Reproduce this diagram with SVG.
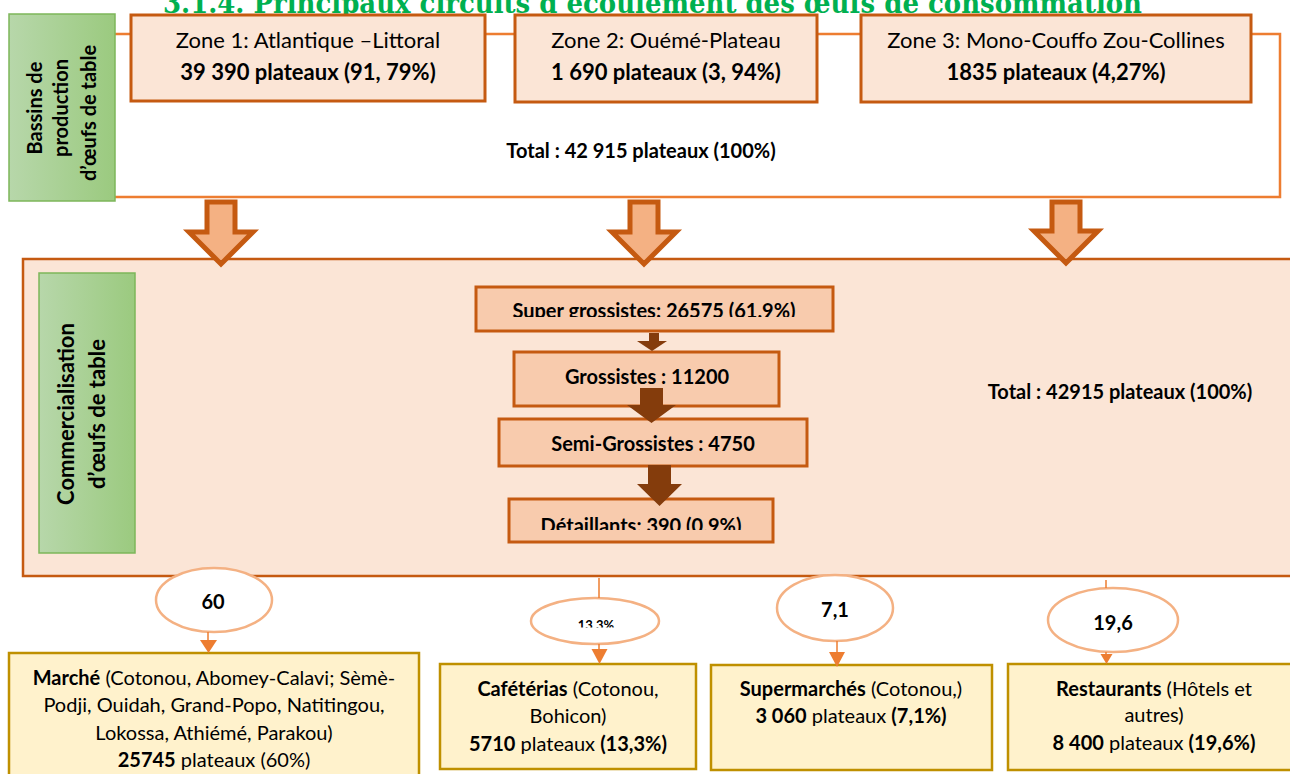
<svg xmlns="http://www.w3.org/2000/svg" width="1290" height="774" viewBox="0 0 1290 774">
<defs>
<linearGradient id="gr" x1="0" y1="0" x2="1" y2="0">
<stop offset="0" stop-color="#B7D7AA"/>
<stop offset="1" stop-color="#9BCA7F"/>
</linearGradient>
<clipPath id="c1"><rect x="470" y="280" width="370" height="37"/></clipPath>
<clipPath id="c2"><rect x="500" y="495" width="280" height="35"/></clipPath>
<clipPath id="c3"><rect x="540" y="600" width="110" height="27.5"/></clipPath>
<style>
text{font-family:Lato,"Liberation Sans",sans-serif;fill:#000;}
.b{font-weight:bold;}
.zone{fill:#FBE5D6;stroke:#C55A11;stroke-width:3;}
.green{fill:url(#gr);stroke:#7DB65A;stroke-width:1.5;}
.flow{fill:#F8CBAD;stroke:#C55A11;stroke-width:3;}
.big{fill:#FBE5D6;stroke:#C55A11;stroke-width:2.5;}
.outlet{fill:#FFF2CC;stroke:#BF9000;stroke-width:2.5;}
.ell{fill:#fff;stroke:#F4B183;stroke-width:2.5;}
.bracket{fill:none;stroke:#ED7D31;stroke-width:2.5;}
.blk{fill:#F4B183;stroke:#C55A11;stroke-width:5;}
.dark{fill:#843C0C;}
.ln{stroke:#ED7D31;stroke-width:1.5;fill:none;}
.ah{fill:#ED7D31;}
.z{font-size:22px;}
.o{font-size:20px;}
.f{font-size:20px;font-weight:bold;}
</style>
</defs>
<rect width="1290" height="774" fill="#fff"/>
<text id="title" x="163" y="13" style="font-family:'DejaVu Serif',serif;fill:#00B050" font-weight="bold" font-size="27" textLength="979" lengthAdjust="spacingAndGlyphs">3.1.4.  Principaux circuits d’écoulement des œufs de consommation</text>

<g id="bracket-frame">
<path class="bracket" d="M115,34 H133 M485,34 H515 M817,34 H861 M1251,34 H1280 V197 H115"/>
</g>

<g id="bassins">
<rect class="green" x="9" y="14" width="106" height="187"/>
<text class="b" font-size="20" text-anchor="middle" transform="translate(42,108) rotate(-90)">Bassins de</text>
<text class="b" font-size="20" text-anchor="middle" transform="translate(68,108) rotate(-90)">production</text>
<text class="b" font-size="20" text-anchor="middle" transform="translate(96,113) rotate(-90)">d’œufs de table</text>
</g>

<g id="zone1">
<rect class="zone" x="131" y="15" width="354" height="86"/>
<text class="z" x="308" y="48" text-anchor="middle">Zone 1: Atlantique –Littoral</text>
<text class="z b" x="308" y="80" text-anchor="middle">39 390 plateaux (91, 79%)</text>
</g>
<g id="zone2">
<rect class="zone" x="515" y="15" width="302" height="87"/>
<text class="z" x="666" y="48" text-anchor="middle">Zone 2: Ouémé-Plateau</text>
<text class="z b" x="666" y="80" text-anchor="middle">1 690 plateaux (3, 94%)</text>
</g>
<g id="zone3">
<rect class="zone" x="861" y="15" width="390" height="87"/>
<text class="z" x="1056" y="48" text-anchor="middle">Zone 3: Mono-Couffo Zou-Collines</text>
<text class="z b" x="1056" y="80" text-anchor="middle">1835 plateaux (4,27%)</text>
</g>
<g id="total-production">
<text class="f" x="641" y="158" text-anchor="middle">Total : 42 915 plateaux (100%)</text>
</g>

<g id="commercialisation">
<rect class="big" x="23" y="259" width="1280" height="317"/>
<rect class="green" x="39" y="273" width="96" height="280"/>
<text class="b" font-size="22" text-anchor="middle" transform="translate(74,414) rotate(-90)">Commercialisation</text>
<text class="b" font-size="22" text-anchor="middle" transform="translate(105,414) rotate(-90)">d’œufs de table</text>
<text class="f" x="1120" y="399" text-anchor="middle">Total : 42915 plateaux (100%)</text>
</g>

<g id="super-grossistes">
<rect class="flow" x="476" y="287" width="357" height="44"/>
<text class="f" x="654" y="318" text-anchor="middle" clip-path="url(#c1)">Super grossistes: 26575 (61,9%)</text>
</g>
<g id="grossistes">
<rect class="flow" x="514" y="352" width="265" height="54"/>
<text class="f" x="647" y="384" text-anchor="middle">Grossistes : 11200</text>
</g>
<g id="semi-grossistes">
<rect class="flow" x="499" y="419" width="308" height="47"/>
<text class="f" x="653" y="451" text-anchor="middle">Semi-Grossistes : 4750</text>
</g>
<g id="detaillants">
<rect class="flow" x="509" y="499" width="264" height="43"/>
<text class="f" x="641" y="532.5" text-anchor="middle" clip-path="url(#c2)">Détaillants: 390 (0.9%)</text>
</g>

<g id="marche">
<rect class="outlet" x="9" y="653" width="410" height="130"/>
<text class="o" x="214" y="685" text-anchor="middle"><tspan class="b">Marché</tspan> (Cotonou, Abomey-Calavi; Sèmè-</text>
<text class="o" x="214" y="712" text-anchor="middle">Podji, Ouidah, Grand-Popo, Natitingou,</text>
<text class="o" x="214" y="740" text-anchor="middle">Lokossa, Athiémé, Parakou)</text>
<text class="o" x="214" y="767" text-anchor="middle"><tspan class="b">25745</tspan> plateaux (60%)</text>
</g>
<g id="cafeterias">
<rect class="outlet" x="440" y="664" width="256" height="105"/>
<text class="o" x="568" y="696" text-anchor="middle"><tspan class="b">Cafétérias</tspan> (Cotonou,</text>
<text class="o" x="568" y="723" text-anchor="middle">Bohicon)</text>
<text class="o" x="568" y="751" text-anchor="middle"><tspan class="b">5710</tspan> plateaux <tspan class="b">(13,3%)</tspan></text>
</g>
<g id="supermarches">
<rect class="outlet" x="711" y="665" width="281" height="105"/>
<text class="o" x="851" y="696" text-anchor="middle"><tspan class="b">Supermarchés</tspan> (Cotonou,)</text>
<text class="o" x="851" y="723" text-anchor="middle"><tspan class="b">3 060</tspan> plateaux <tspan class="b">(7,1%)</tspan></text>
</g>
<g id="restaurants">
<rect class="outlet" x="1008" y="664" width="290" height="106"/>
<text class="o" x="1154" y="696" text-anchor="middle"><tspan class="b">Restaurants</tspan> (Hôtels et</text>
<text class="o" x="1154" y="722" text-anchor="middle">autres)</text>
<text class="o" x="1154" y="750" text-anchor="middle"><tspan class="b">8 400</tspan> plateaux <tspan class="b">(19,6%)</tspan></text>
</g>

<g id="share-60">
<ellipse class="ell" cx="214" cy="600" rx="58" ry="32"/>
<text class="b" font-size="20" x="213" y="609" text-anchor="middle">60</text>
</g>
<g id="share-13">
<ellipse class="ell" cx="595" cy="621" rx="64" ry="23"/>
<text class="b" font-size="13" x="596" y="630" text-anchor="middle" clip-path="url(#c3)">13.3%</text>
</g>
<g id="share-7">
<ellipse class="ell" cx="835" cy="608" rx="58" ry="33"/>
<text class="b" font-size="20" x="835" y="617" text-anchor="middle">7,1</text>
</g>
<g id="share-19">
<ellipse class="ell" cx="1113" cy="620" rx="65" ry="32"/>
<text class="b" font-size="20" x="1113" y="630" text-anchor="middle">19,6</text>
</g>

<g id="connectors">
<path class="blk" d="M207,202 H235 V232 H253 L221,264 L189,232 H207 Z"/>
<path class="blk" d="M630,202 H658 V232 H676 L644,264 L612,232 H630 Z"/>
<path class="blk" d="M1052,202 H1080 V231 H1098 L1066,263 L1034,231 H1052 Z"/>
<path class="dark" d="M649,333 H659 V341 H667 L652,351 L637,341 H649 Z"/>
<path class="dark" d="M640,388 H663 V405 H676 L651.5,423 L627,405 H640 Z"/>
<path class="dark" d="M648,465 H671 V484 H682 L659.5,506 L637,484 H648 Z"/>
<path class="ln" d="M208,632 V641"/>
<path class="ah" d="M200,640 H217 L208.5,653 Z"/>
<path class="ln" d="M599,578 V598 M599,644 V650"/>
<path class="ah" d="M591.5,649 H607.5 L599.5,664 Z"/>
<path class="ln" d="M837,641 V653"/>
<path class="ah" d="M829,652 H845 L837,667 Z"/>
<path class="ln" d="M1106,580 V588 M1106,652 V656"/>
<path class="ah" d="M1100.5,654 H1112.5 L1106.5,664 Z"/>
</g>
</svg>
